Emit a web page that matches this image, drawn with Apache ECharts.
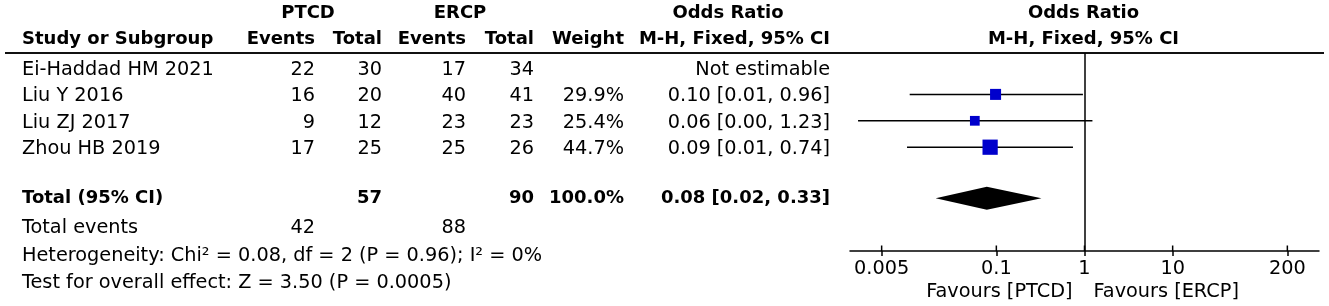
<!DOCTYPE html>
<html>
<head>
<meta charset="utf-8">
<script src="https://cdn.jsdelivr.net/npm/echarts@6/dist/echarts.min.js"></script>
<style>
  html, body { margin: 0; padding: 0; background: #fff; }
  #main { width: 1329px; height: 306px; }
</style>
</head>
<body>
<div id="main"></div>
<script>
// study level data
const studies = ['Ei-Haddad HM 2021', 'Liu Y 2016', 'Liu ZJ 2017', 'Zhou HB 2019'];
const ptcdEvents = [22, 16, 9, 17];
const ptcdTotal = [30, 20, 12, 25];
const ercpEvents = [17, 40, 23, 25];
const ercpTotal = [34, 41, 23, 26];
const weights = [null, 29.9, 25.4, 44.7];
const orLabels = ['Not estimable', '0.10 [0.01, 0.96]', '0.06 [0.00, 1.23]', '0.09 [0.01, 0.74]'];
const orEst = [null, 0.098, 0.057, 0.085];
const orLow = [null, 0.0104, 0.0027, 0.0097];
const orHigh = [null, 0.96, 1.23, 0.74];

// pooled result: estimate, lower, upper
const pooled = [0.078, 0.0205, 0.325];
const totalRow = ['Total (95% CI)', '', '57', '', '90', '100.0%', '0.08 [0.02, 0.33]'];
const totalEvents = ['Total events', '42', '', '88'];
const footerNotes = [
  'Heterogeneity: Chi\u00b2 = 0.08, df = 2 (P = 0.96); I\u00b2 = 0%',
  'Test for overall effect: Z = 3.50 (P = 0.0005)'
];

const axisTicks = [0.005, 0.1, 1, 10, 200];
const favours = ['Favours [PTCD]', 'Favours [ERCP]'];

const FONT = '"DejaVu Sans", sans-serif';
const SIZE = 19.3;
const BOLD = 18;

const lg = (v) => Math.log10(v);

// row slots on the (hidden) y axis
const totalPos = 4.93;
const footerPos = [6.07, 7.12, 8.14];
const yMin = -0.568;
const yMax = 6.932;

const chart = echarts.init(document.getElementById('main'), null, { renderer: 'canvas' });

const ciData = [];
const boxData = [];
studies.forEach((s, i) => {
  if (orEst[i] == null) return;
  ciData.push([lg(orLow[i]), lg(orHigh[i]), i]);
  boxData.push({ value: [lg(orEst[i]), i], symbolSize: 2.5 + 0.285 * weights[i] });
});

function tickName(v) {
  let best = 0;
  axisTicks.forEach((t, i) => {
    if (Math.abs(lg(t) - v) < Math.abs(lg(axisTicks[best]) - v)) best = i;
  });
  return String(axisTicks[best]);
}

chart.setOption({
  animation: false,
  backgroundColor: '#fff',
  grid: { left: 850, right: 10, top: 53, bottom: 55 },
  xAxis: {
    type: 'value', min: -2.66, max: 2.66, position: 'bottom',
    axisLine: { onZero: false, lineStyle: { color: '#000', width: 1.5 } },
    axisTick: { customValues: axisTicks.map(lg), length: 5, lineStyle: { color: '#000', width: 1.5 } },
    axisLabel: {
      customValues: axisTicks.map(lg), margin: 8, color: '#000',
      fontFamily: FONT, fontSize: SIZE, formatter: tickName
    },
    splitLine: { show: false }
  },
  yAxis: { type: 'value', inverse: true, min: yMin, max: yMax, show: false },
  series: [
    {
      // confidence intervals
      type: 'custom',
      encode: { x: [0, 1], y: 2 },
      data: ciData,
      renderItem: (params, api) => {
        const a = api.coord([api.value(0), api.value(2)]);
        const b = api.coord([api.value(1), api.value(2)]);
        return {
          type: 'line',
          shape: { x1: a[0], y1: a[1], x2: b[0], y2: b[1] },
          style: { stroke: '#000', lineWidth: 1.5 }
        };
      },
      markLine: {
        silent: true,
        symbol: 'none',
        label: { show: false },
        lineStyle: { color: '#000', width: 1.5, type: 'solid' },
        data: [{ xAxis: lg(1) }]
      }
    },
    {
      type: 'scatter',
      symbol: 'rect',
      data: boxData,
      itemStyle: { color: '#0000cc', opacity: 1 }
    },
    {
      // pooled diamond
      type: 'custom',
      encode: { x: [0, 1, 2], y: 3 },
      data: [[lg(pooled[1]), lg(pooled[0]), lg(pooled[2]), totalPos]],
      renderItem: (params, api) => {
        const y = api.value(3);
        const l = api.coord([api.value(0), y]);
        const m = api.coord([api.value(1), y]);
        const r = api.coord([api.value(2), y]);
        const h = 11.5;
        return {
          type: 'polygon',
          shape: { points: [[l[0], l[1]], [m[0], m[1] - h], [r[0], r[1]], [m[0], m[1] + h]] },
          style: { fill: '#000' }
        };
      }
    },
    {
      // upper half of the axis ticks (they cross the axis line)
      type: 'custom',
      encode: { x: 0 },
      data: axisTicks.map((t) => [lg(t)]),
      renderItem: (params, api) => {
        const p = api.coord([api.value(0), yMax]);
        return {
          type: 'line',
          shape: { x1: p[0], y1: p[1], x2: p[0], y2: p[1] - 5.5 },
          style: { stroke: '#000', lineWidth: 1.5 }
        };
      }
    }
  ]
});

// table text, placed on the same row scale as the plot
const yPix = (r) => chart.convertToPixel({ yAxisIndex: 0 }, r);
const xPix = (v) => chart.convertToPixel({ xAxisIndex: 0 }, v);

const colX = [22, 315, 382, 466, 534, 624, 830];
const colAlign = ['left', 'right', 'right', 'right', 'right', 'right', 'right'];
const textDy = 2;

const graphics = [];
function txt(s, x, y, align, bold) {
  graphics.push({
    type: 'text', x: x, y: y, silent: true,
    style: {
      text: s, fill: '#000', fontFamily: FONT,
      fontSize: bold ? BOLD : SIZE, fontWeight: bold ? 'bold' : 'normal',
      textAlign: align, textVerticalAlign: 'middle', align: align, verticalAlign: 'middle'
    }
  });
}

// header
const nullX = xPix(lg(1));
txt('PTCD', 308, 13.5, 'center', true);
txt('ERCP', 460, 13.5, 'center', true);
txt('Odds Ratio', 728, 13.5, 'center', true);
txt('Odds Ratio', nullX - 1, 13.5, 'center', true);
const heads = ['Study or Subgroup', 'Events', 'Total', 'Events', 'Total', 'Weight', 'M-H, Fixed, 95% CI'];
heads.forEach((h, i) => txt(h, colX[i], 39.5, colAlign[i], true));
txt('M-H, Fixed, 95% CI', nullX - 1, 39.5, 'center', true);

graphics.push({
  type: 'line', silent: true,
  shape: { x1: 5, y1: 53, x2: 1324, y2: 53 },
  style: { stroke: '#111', lineWidth: 2 }
});

// study rows
studies.forEach((s, i) => {
  const y = yPix(i) + textDy;
  const cells = [s, ptcdEvents[i], ptcdTotal[i], ercpEvents[i], ercpTotal[i],
    weights[i] == null ? '' : weights[i].toFixed(1) + '%', orLabels[i]];
  cells.forEach((c, j) => { if (c !== '') txt(String(c), colX[j], y, colAlign[j], false); });
});

// total row
totalRow.forEach((c, j) => { if (c !== '') txt(c, colX[j], yPix(totalPos) + 0.5, colAlign[j], true); });

// footer
totalEvents.forEach((c, j) => { if (c !== '') txt(c, colX[j], yPix(footerPos[0]), colAlign[j], false); });
footerNotes.forEach((c, j) => txt(c, colX[0], yPix(footerPos[j + 1]), 'left', false));

// favours labels under the axis
txt(favours[0], nullX - 12, 292, 'right', false);
txt(favours[1], nullX + 9, 292, 'left', false);

chart.setOption({ graphic: graphics });
</script>
</body>
</html>
